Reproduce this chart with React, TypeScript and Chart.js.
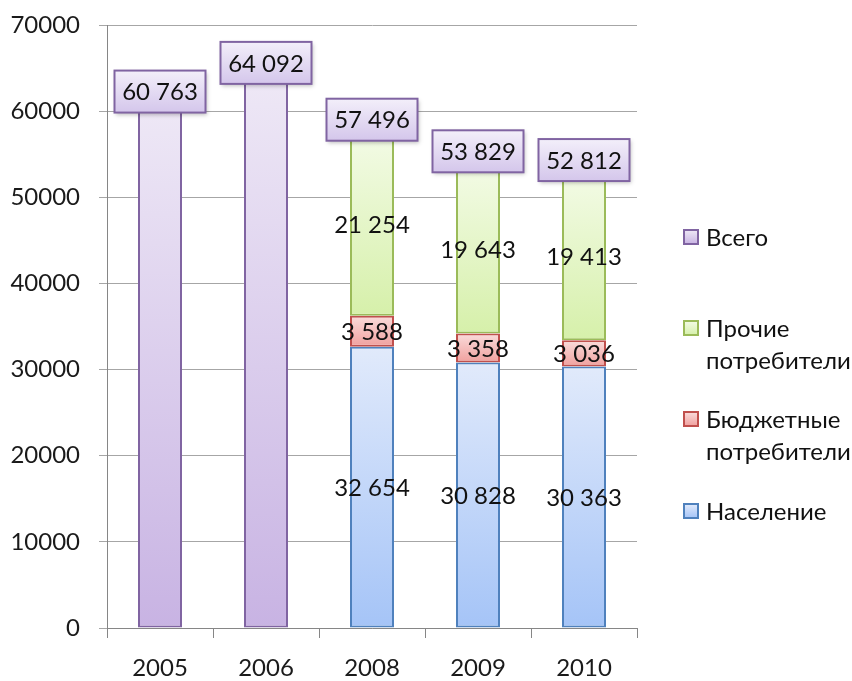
import React, { useEffect, useRef } from "react";
import { Chart, registerables } from "chart.js";

Chart.register(...registerables);

const categories = ["2005", "2006", "2008", "2009", "2010"];
const naselenie = [null, null, 32654, 30828, 30363];
const byudzhetnye = [null, null, 3588, 3358, 3036];
const prochie = [null, null, 21254, 19643, 19413];
const vsego = [60763, 64092, null, null, null];
const totals = [60763, 64092, 57496, 53829, 52812];
const yMax = 70000;
const yStep = 10000;

const FONT = "Lato, 'Open Sans', sans-serif";
const FS = 24;

type Pal = { border: string; top: string; bottom: string };
const palBlue: Pal = { border: "#4F81BD", top: "#E1EAFB", bottom: "#A5C4F7" };
const palRed: Pal = { border: "#C0504D", top: "#FADCDB", bottom: "#F0A09E" };
const palGreen: Pal = { border: "#9BBB59", top: "#F3FBE6", bottom: "#D6F0AA" };
const palPurple: Pal = { border: "#8064A2", top: "#EEE8F6", bottom: "#C8B3E3" };

function fmt(v: number): string {
  const s = String(v);
  return s.length > 3 ? s.slice(0, s.length - 3) + " " + s.slice(s.length - 3) : s;
}

function gradFill(pal: Pal) {
  return (c: any) => {
    const chart = c.chart;
    const { chartArea, scales } = chart;
    if (!chartArea || !scales.y) return pal.bottom;
    const i = c.dataIndex;
    const di = c.datasetIndex;
    const v = chart.data.datasets[di].data[i];
    if (v == null) return pal.bottom;
    let base = 0;
    for (let j = 0; j < di; j++) {
      const w = chart.data.datasets[j].data[i];
      if (w != null) base += w as number;
    }
    const y1 = scales.y.getPixelForValue(base + v);
    const y0 = scales.y.getPixelForValue(base);
    if (!isFinite(y1) || !isFinite(y0) || y1 === y0) return pal.bottom;
    const g = chart.ctx.createLinearGradient(0, y1, 0, y0);
    g.addColorStop(0, pal.top);
    g.addColorStop(1, pal.bottom);
    return g;
  };
}

const labelsPlugin = {
  id: "customLabels",
  afterDatasetsDraw(chart: any) {
    const ctx = chart.ctx;
    const ys = chart.scales.y;
    const xs = chart.scales.x;
    ctx.save();
    ctx.font = `${FS}px ${FONT}`;
    ctx.textAlign = "center";
    ctx.textBaseline = "middle";
    ctx.fillStyle = "#111";
    // segment labels
    for (let d = 0; d < 3; d++) {
      const meta = chart.getDatasetMeta(d);
      const data = chart.data.datasets[d].data;
      meta.data.forEach((el: any, i: number) => {
        const v = data[i];
        if (v == null) return;
        ctx.fillText(fmt(v as number), el.x, (el.y + el.base) / 2 + 1);
      });
    }
    // total boxes
    totals.forEach((t, i) => {
      const x = xs.getPixelForValue(i);
      const y = ys.getPixelForValue(t);
      const w = 91;
      const h = 42;
      const bx = x - w / 2;
      const by = y - 34;
      ctx.save();
      ctx.shadowColor = "rgba(0,0,0,0.25)";
      ctx.shadowBlur = 4;
      ctx.shadowOffsetX = 1;
      ctx.shadowOffsetY = 2;
      const g = ctx.createLinearGradient(0, by, 0, by + h);
      g.addColorStop(0, "#F3EFFA");
      g.addColorStop(1, "#D4C6EB");
      ctx.fillStyle = g;
      ctx.fillRect(bx, by, w, h);
      ctx.restore();
      ctx.strokeStyle = "#8064A2";
      ctx.lineWidth = 2;
      ctx.strokeRect(bx, by, w, h);
      ctx.fillStyle = "#111";
      ctx.fillText(fmt(t), x, by + h / 2 + 1);
    });
    ctx.restore();
  },
  afterDraw(chart: any) {
    const ctx = chart.ctx;
    const items = [
      { ds: 3, pal: palPurple, y: 237 },
      { ds: 2, pal: palGreen, y: 328 },
      { ds: 1, pal: palRed, y: 419 },
      { ds: 0, pal: palBlue, y: 511 },
    ];
    ctx.save();
    ctx.font = `${FS}px ${FONT}`;
    ctx.textAlign = "left";
    ctx.textBaseline = "middle";
    items.forEach((it) => {
      const label: string = chart.data.datasets[it.ds].label;
      const lines = label.split(" ");
      const sx = 684;
      const sy = it.y - 7;
      const g = ctx.createLinearGradient(0, sy, 0, sy + 14);
      g.addColorStop(0, it.pal.top);
      g.addColorStop(1, it.pal.bottom);
      ctx.fillStyle = g;
      ctx.fillRect(sx, sy, 14, 14);
      ctx.strokeStyle = it.pal.border;
      ctx.lineWidth = 2;
      ctx.strokeRect(sx, sy, 14, 14);
      ctx.fillStyle = "#111";
      lines.forEach((ln, k) => {
        ctx.fillText(ln, 706, it.y + 1 + k * 32);
      });
    });
    ctx.restore();
  },
};

function mkDataset(label: string, data: (number | null)[], pal: Pal) {
  return {
    label,
    data,
    backgroundColor: gradFill(pal),
    borderColor: pal.border,
    borderWidth: 2,
    borderSkipped: false,
    stack: "s",
    categoryPercentage: 1,
    barPercentage: 0.415,
  };
}

export default function App() {
  const ref = useRef<HTMLCanvasElement | null>(null);
  useEffect(() => {
    if (!ref.current) return;
    const chart = new Chart(ref.current, {
      type: "bar",
      data: {
        labels: categories,
        datasets: [
          mkDataset("Население", naselenie, palBlue),
          mkDataset("Бюджетные потребители", byudzhetnye, palRed),
          mkDataset("Прочие потребители", prochie, palGreen),
          mkDataset("Всего", vsego, palPurple),
        ] as any,
      },
      options: {
        animation: false,
        responsive: true,
        maintainAspectRatio: false,
        layout: { padding: { top: 25, right: 215, bottom: 0, left: 0 } },
        plugins: {
          legend: { display: false },
          tooltip: { enabled: false },
        },
        scales: {
          x: {
            stacked: true,
            offset: true,
            grid: {
              display: true,
              offset: true,
              drawOnChartArea: false,
              drawTicks: true,
              tickLength: 10,
              color: "#868686",
            },
            border: { display: true, color: "#868686", width: 1 },
            ticks: {
              font: { family: FONT, size: FS },
              color: "#1a1a1a",
              padding: 16,
              maxRotation: 0,
            },
            afterFit: (s: any) => {
              s.height = 53;
              s.paddingLeft = 0;
              s.paddingRight = 0;
            },
          },
          y: {
            stacked: true,
            min: 0,
            max: yMax,
            ticks: {
              stepSize: yStep,
              font: { family: FONT, size: FS },
              color: "#1a1a1a",
              padding: 19,
              callback: (v: any) => String(v),
            },
            grid: {
              color: "#A6A6A6",
              drawTicks: true,
              tickLength: 8,
              lineWidth: 1,
            },
            border: { display: true, color: "#868686", width: 1 },
            afterFit: (s: any) => {
              s.width = 107;
              s.paddingTop = 0;
              s.paddingBottom = 0;
            },
          },
        },
      },
      plugins: [labelsPlugin],
    });
    return () => chart.destroy();
  }, []);
  return (
    <div style={{ position: "absolute", left: 0, top: 0, width: 852, height: 681, background: "#fff" }}>
      <canvas ref={ref} />
    </div>
  );
}
